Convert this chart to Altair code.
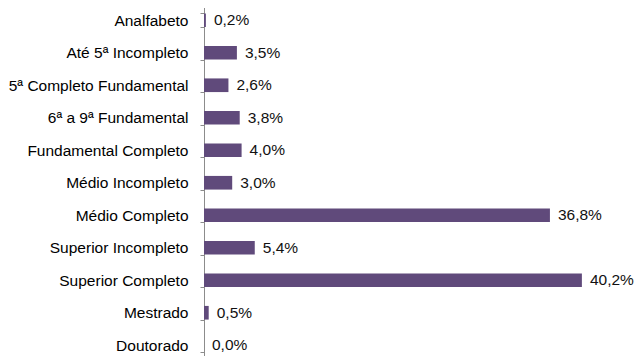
import altair as alt
import pandas as pd

categories = [
    "Analfabeto",
    "Até 5ª Incompleto",
    "5ª Completo Fundamental",
    "6ª a 9ª Fundamental",
    "Fundamental Completo",
    "Médio Incompleto",
    "Médio Completo",
    "Superior Incompleto",
    "Superior Completo",
    "Mestrado",
    "Doutorado",
]
values = [0.2, 3.5, 2.6, 3.8, 4.0, 3.0, 36.8, 5.4, 40.2, 0.5, 0.0]
labels = [f"{v:.1f}".replace(".", ",") + "%" for v in values]

df = pd.DataFrame({"cat": categories, "val": values, "label": labels})

y = alt.Y(
    "cat:N",
    sort=categories,
    title=None,
    scale=alt.Scale(range=[-4, 353.5], paddingInner=0.58, paddingOuter=0.29),
    axis=alt.Axis(
        labelFont="Liberation Sans",
        labelFontSize=15.5,
        labelColor="#000000",
        labelPadding=12,
        tickSize=4,
        tickColor="#8c8c8c",
        domainColor="#8c8c8c",
        tickBand="extent",
        labelLimit=300,
    ),
)
x = alt.X("val:Q", axis=None, scale=alt.Scale(domain=[0, 45.85], range=[0, 431], nice=False))

bars = alt.Chart(df).mark_bar(color="#604A7B").encode(x=x, y=y)
text = alt.Chart(df).mark_text(
    align="left", baseline="middle", dx=8, font="Liberation Sans", fontSize=15.5, color="#111111"
).encode(x=x, y=y, text="label:N")

chart = (
    alt.layer(bars, text)
    .properties(
        width=431,
        height=348,
        autosize=alt.AutoSizeParams(type="none"),
        padding={"left": 196, "top": 0, "right": 0, "bottom": 0},
    )
    .configure_view(stroke=None)
)
chart.save("out.html", embed_options={"renderer": "svg", "actions": False})
